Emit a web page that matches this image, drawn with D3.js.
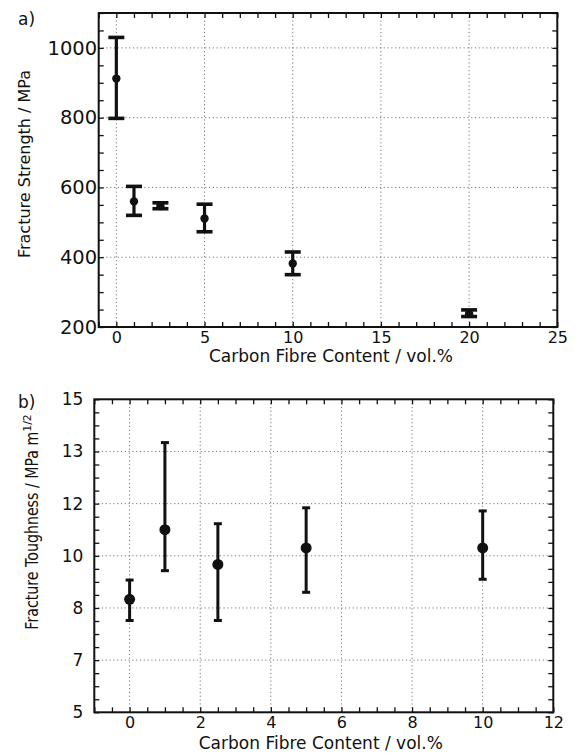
<!DOCTYPE html>
<html lang="en">
    <head>
        <meta charset="utf-8">
        <title>Fracture strength and toughness</title>
        <script type="text/javascript" src="https://d3js.org/d3.v7.min.js"></script>
        <style type="text/css">
            body { margin: 0; background: #fff; }
            svg text { font-family: "DejaVu Sans", sans-serif; fill: #111; }
            .grid line { stroke: #777; stroke-width: 1; stroke-dasharray: 1.2 2.6; }
            .axis path { display: none; }
            .axis line { stroke: #111; stroke-width: 1.3; }
        </style>
    </head>
    <body>
        <script type="text/javascript">

            // a) fracture strength vs carbon fibre content
            const strengthX    = [0, 1, 2.5, 5, 10, 20];
            const strengthMean = [912, 560, 547, 511, 382, 238];
            const strengthHi   = [1030, 603, 556, 552, 415, 249];
            const strengthLo   = [798, 520, 539, 473, 350, 230];
            const strengthXTicks = [0, 5, 10, 15, 20, 25];
            const strengthYTicks = [200, 400, 600, 800, 1000];

            // b) fracture toughness vs carbon fibre content
            const toughX    = [0, 1, 2.5, 5, 10];
            const toughMean = [8.33, 11.0, 9.67, 10.3, 10.3];
            const toughHi   = [9.07, 13.34, 11.23, 11.84, 11.72];
            const toughLo   = [7.76, 9.43, 7.76, 8.6, 9.1];
            const toughXTicks = [0, 2, 4, 6, 8, 10, 12];
            const toughYTicks = [5, 7, 8, 10, 12, 13, 15];   // labels as printed, evenly spaced

            const svg = d3.select("body")
                          .append("svg")
                          .attr("width", 577)
                          .attr("height", 753);

            function drawPanel(p) {
                const g = svg.append("g");
                const x = p.x, y = p.y;
                const [x0, x1] = x.range();
                const yb = y.range()[0], yt = y.range()[y.range().length - 1];

                // dotted grid
                const grid = g.append("g").attr("class", "grid");
                grid.selectAll(".gx")
                    .data(p.xTicks.filter(d => x(d) > x0 + 1 && x(d) < x1 - 1))
                    .enter().append("line")
                    .attr("x1", d => x(d)).attr("x2", d => x(d))
                    .attr("y1", yt).attr("y2", yb);
                grid.selectAll(".gy")
                    .data(p.yTicks.filter(d => y(d) < yb - 1 && y(d) > yt + 1))
                    .enter().append("line")
                    .attr("x1", x0).attr("x2", x1)
                    .attr("y1", d => y(d)).attr("y2", d => y(d));

                // minor ticks, inward on all four sides
                const tk = 5;
                g.append("g").attr("class", "axis")
                    .attr("transform", "translate(0," + yb + ")")
                    .call(d3.axisBottom(x).tickValues(p.xMinor).tickSize(-tk).tickFormat(""));
                g.append("g").attr("class", "axis")
                    .attr("transform", "translate(0," + yt + ")")
                    .call(d3.axisTop(x).tickValues(p.xMinor).tickSize(-tk).tickFormat(""));
                g.append("g").attr("class", "axis")
                    .attr("transform", "translate(" + x0 + ",0)")
                    .call(d3.axisLeft(y).tickValues(p.yMinor).tickSize(-tk).tickFormat(""));
                g.append("g").attr("class", "axis")
                    .attr("transform", "translate(" + x1 + ",0)")
                    .call(d3.axisRight(y).tickValues(p.yMinor).tickSize(-tk).tickFormat(""));

                // labelled axes
                const bx = g.append("g").attr("class", "axis")
                    .attr("transform", "translate(0," + yb + ")")
                    .call(d3.axisBottom(x).tickValues(p.xTicks).tickSize(0).tickPadding(p.xPad).tickFormat(d3.format("d")));
                bx.selectAll("text").style("font-size", p.fs + "px");
                const ly = g.append("g").attr("class", "axis")
                    .attr("transform", "translate(" + x0 + ",0)")
                    .call(d3.axisLeft(y).tickValues(p.yTicks).tickSize(0).tickPadding(p.yPad).tickFormat(d3.format("d")));
                ly.selectAll("text").style("font-size", p.yTickFs + "px");

                // frame
                g.append("rect")
                    .attr("x", x0).attr("y", yt)
                    .attr("width", x1 - x0).attr("height", yb - yt)
                    .attr("fill", "none").attr("stroke", "#111").attr("stroke-width", 2);

                // error bars
                const idx = d3.range(p.xs.length);
                g.selectAll(".eb").data(idx).enter().append("line")
                    .attr("x1", i => x(p.xs[i])).attr("x2", i => x(p.xs[i]))
                    .attr("y1", i => y(p.hi[i])).attr("y2", i => y(p.lo[i]))
                    .attr("stroke", "#111").attr("stroke-width", p.lw);
                [p.hi, p.lo].forEach(arr => {
                    g.selectAll(null).data(idx).enter().append("line")
                        .attr("x1", i => x(p.xs[i]) - p.cap / 2).attr("x2", i => x(p.xs[i]) + p.cap / 2)
                        .attr("y1", i => y(arr[i])).attr("y2", i => y(arr[i]))
                        .attr("stroke", "#111").attr("stroke-width", p.capW);
                });
                g.selectAll("circle").data(idx).enter().append("circle")
                    .attr("cx", i => x(p.xs[i])).attr("cy", i => y(p.mean[i]))
                    .attr("r", p.r).attr("fill", "#111");

                // titles
                g.append("text")
                    .attr("x", (x0 + x1) / 2 + p.xtDx).attr("y", p.xtY)
                    .attr("text-anchor", "middle").style("font-size", p.tfs + "px")
                    .text("Carbon Fibre Content / vol.%");
                const yl = g.append("text")
                    .attr("transform", "translate(" + p.ytX + "," + p.ytY + ") rotate(-90)")
                    .attr("text-anchor", "middle").style("font-size", p.yfs + "px");
                const main = yl.append("tspan").text(p.yTitle);
                if (p.yLen) main.attr("textLength", p.yLen).attr("lengthAdjust", "spacingAndGlyphs");
                if (p.ySup) {
                    yl.append("tspan").attr("dy", -7).style("font-size", (p.yfs * 0.6) + "px").text(p.ySup);
                }
                g.append("text")
                    .attr("x", p.tagX).attr("y", p.tagY)
                    .style("font-size", p.tfs + "px")
                    .text(p.tag);
            }

            // panel a
            const xA = d3.scaleLinear().domain([-1, 25]).range([98.7, 557.3]);
            const yA = d3.scaleLinear().domain([200, 1100]).range([327, 13]);
            drawPanel({
                x: xA, y: yA,
                xs: strengthX, mean: strengthMean, hi: strengthHi, lo: strengthLo,
                xTicks: strengthXTicks, yTicks: strengthYTicks,
                xMinor: d3.range(-1, 26, 1), yMinor: d3.range(200, 1101, 50),
                xPad: 4.5, yPad: 1.5, fs: 16, yTickFs: 19.5, tfs: 17, yfs: 16,
                lw: 3.2, cap: 16, capW: 3.6, r: 4.2,
                xtDx: 3, xtY: 362,
                yTitle: "Fracture Strength / MPa", ytX: 30, ytY: 164,
                tag: "a)", tagX: 18, tagY: 25
            });

            // panel b
            const xB = d3.scaleLinear().domain([-1, 12]).range([94.3, 553.3]);
            const yB = d3.scaleLinear()
                          .domain(toughYTicks)
                          .range(toughYTicks.map((d, i) => 712.3 - i * (712.3 - 399.3) / (toughYTicks.length - 1)));
            const toughYMinor = [];
            for (let i = 0; i < toughYTicks.length - 1; i++) {
                for (let k = 0; k < 4; k++) {
                    toughYMinor.push(toughYTicks[i] + (toughYTicks[i + 1] - toughYTicks[i]) * k / 4);
                }
            }
            toughYMinor.push(toughYTicks[toughYTicks.length - 1]);
            drawPanel({
                x: xB, y: yB,
                xs: toughX, mean: toughMean, hi: toughHi, lo: toughLo,
                xTicks: toughXTicks, yTicks: toughYTicks,
                xMinor: d3.range(-1, 12.01, 0.5), yMinor: toughYMinor,
                xPad: 4.5, yPad: 11, fs: 16, yTickFs: 17, tfs: 17, yfs: 18,
                lw: 3, cap: 8, capW: 3, r: 5.5,
                xtDx: -3, xtY: 748.5,
                yTitle: "Fracture Toughness / MPa m", yLen: 198, ySup: "1/2", ytX: 38, ytY: 522,
                tag: "b)", tagX: 18, tagY: 408
            });

        </script>
    </body>
</html>
